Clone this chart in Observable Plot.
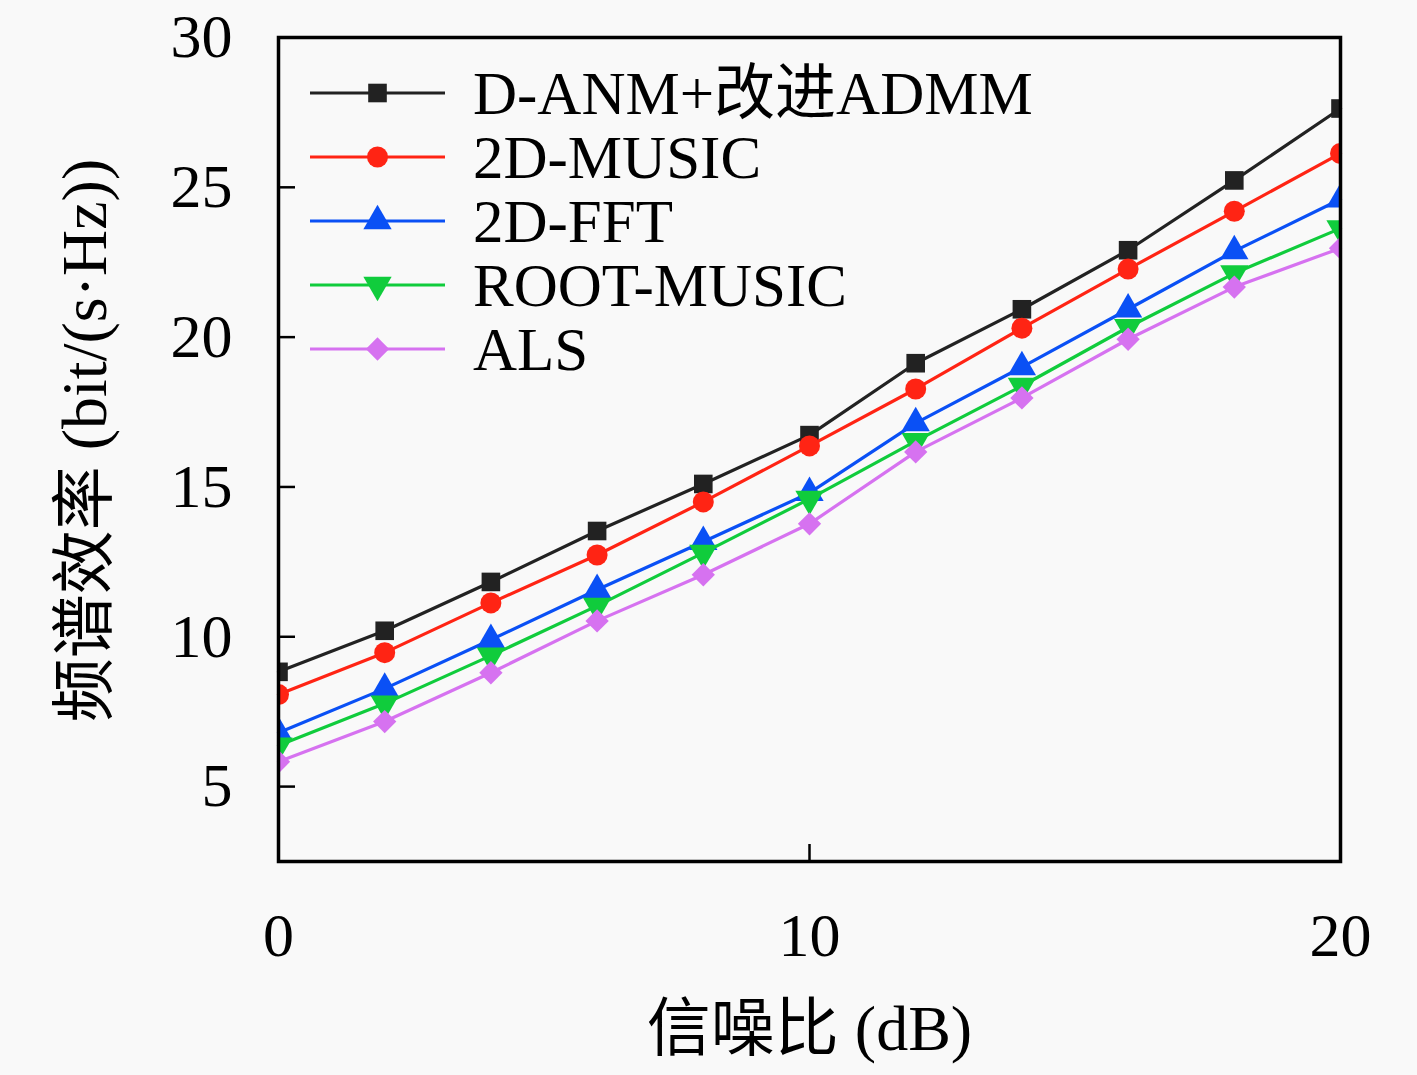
<!DOCTYPE html>
<html>
<head>
<meta charset="utf-8">
<script src="https://cdn.jsdelivr.net/npm/d3@7"></script>
<script src="https://cdn.jsdelivr.net/npm/@observablehq/plot@0.6"></script>
<style>
  html, body { margin: 0; padding: 0; background: #f9f9f9; }
  #chart { width: 1417px; height: 1075px; }
</style>
</head>
<body>
<div id="chart"></div>
<script>
const snr = [0, 2, 4, 6, 8, 10, 12, 14, 16, 18, 20];
const seriesNames = ["D-ANM+改进ADMM", "2D-MUSIC", "2D-FFT", "ROOT-MUSIC", "ALS"];
const danmAdmm  = [8.83, 10.2, 11.83, 13.53, 15.1, 16.73, 19.13, 20.93, 22.9, 25.23, 27.63];
const music2d   = [8.07, 9.47, 11.13, 12.73, 14.5, 16.37, 18.27, 20.3, 22.27, 24.2, 26.13];
const fft2d     = [6.8, 8.27, 9.9, 11.57, 13.17, 14.8, 17.13, 19.0, 20.93, 22.87, 24.6];
const rootMusic = [6.37, 7.77, 9.37, 11.03, 12.8, 14.6, 16.53, 18.37, 20.33, 22.13, 23.63];
const als       = [5.83, 7.17, 8.8, 10.53, 12.07, 13.77, 16.17, 17.97, 19.93, 21.67, 22.97];
const xTicks = [0, 10, 20];
const yTicks = [5, 10, 15, 20, 25, 30];
const xLabel = "信噪比 (dB)";
const yLabel = "频谱效率 (bit/(s·Hz))";

const values = [danmAdmm, music2d, fft2d, rootMusic, als];
const colors = ["#222222", "#ff2414", "#0a50f5", "#10cc3c", "#d672f0"];
const symbols = ["square", "circle", "triangle", "triangle", "diamond2"];
const rotations = [0, 0, 0, 180, 0];

const rows = [];
seriesNames.forEach((name, i) => {
  snr.forEach((x, j) => rows.push({series: name, snr: x, value: values[i][j]}));
});

const serifFont = "'Liberation Serif', 'DejaVu Serif', 'Noto Sans CJK SC', serif";

const W = 1417, H = 1075, mL = 278, mR = 77, mT = 37, mB = 214;

const marks = [];
seriesNames.forEach((name, i) => {
  const d = rows.filter(r => r.series === name);
  marks.push(Plot.line(d, {x: "snr", y: "value", stroke: colors[i], strokeWidth: 3.2}));
  marks.push(Plot.dot(d, {x: "snr", y: "value", fill: colors[i], stroke: "none", symbol: () => symbols[i], r: 10.5, rotate: rotations[i], clip: true}));
});

const chart = Plot.plot({
  width: W, height: H,
  marginLeft: mL, marginRight: mR, marginTop: mT, marginBottom: mB,
  style: {background: "#f9f9f9", fontFamily: serifFont, fontSize: "60px", color: "black"},
  x: {domain: [0, 20], ticks: xTicks},
  y: {domain: [2.5, 30], ticks: yTicks},
  symbol: {type: "identity"},
  marks: [
    ...marks,
    Plot.axisX({ticks: xTicks, tickSize: 17, dy: -17, strokeWidth: 2.5, tickFormat: () => "", label: null}),
    Plot.axisX({ticks: xTicks, tickSize: 0, tickPadding: 50, fontSize: 62, label: null, tickFormat: d => String(d)}),
    Plot.axisY({ticks: yTicks, tickSize: 17, dx: 17, strokeWidth: 2.5, tickFormat: () => "", label: null}),
    Plot.axisY({ticks: yTicks, tickSize: 0, tickPadding: 46, fontSize: 62, label: null, tickFormat: d => String(d)}),
    Plot.frame({stroke: "black", strokeWidth: 3.5}),
    Plot.text([xLabel], {text: d => d, frameAnchor: "bottom", dy: 168, fontSize: 64, lineAnchor: "middle", textAnchor: "middle", fill: "black"}),
    Plot.text([yLabel], {text: d => d, frameAnchor: "left", dx: -193, dy: -9, rotate: -90, fontSize: 64, lineAnchor: "middle", textAnchor: "middle", fill: "black"})
  ]
});

// legend inside the plot frame (top-left)
const svg = d3.select(chart);
const lg = svg.append("g").attr("class", "legend").attr("text-anchor", "start");
const symMap = {square: d3.symbolSquare, circle: d3.symbolCircle, triangle: d3.symbolTriangle, diamond2: d3.symbolDiamond2};
seriesNames.forEach((name, i) => {
  const y = mT + 56 + i * 64;
  const x0 = mL + 32, x1 = mL + 167, xm = (x0 + x1) / 2;
  lg.append("line").attr("x1", x0).attr("x2", x1).attr("y1", y).attr("y2", y)
    .attr("stroke", colors[i]).attr("stroke-width", 3.2);
  lg.append("path").attr("d", d3.symbol(symMap[symbols[i]], Math.PI * 10.5 * 10.5)())
    .attr("transform", `translate(${xm},${y}) rotate(${rotations[i]})`)
    .attr("fill", colors[i]);
  lg.append("text").attr("x", mL + 195).attr("y", y).attr("dy", "0.35em")
    .attr("text-anchor", "start")
    .attr("font-size", 61).attr("font-family", serifFont).attr("fill", "black").text(name);
});

document.getElementById("chart").appendChild(chart);
</script>
</body>
</html>
